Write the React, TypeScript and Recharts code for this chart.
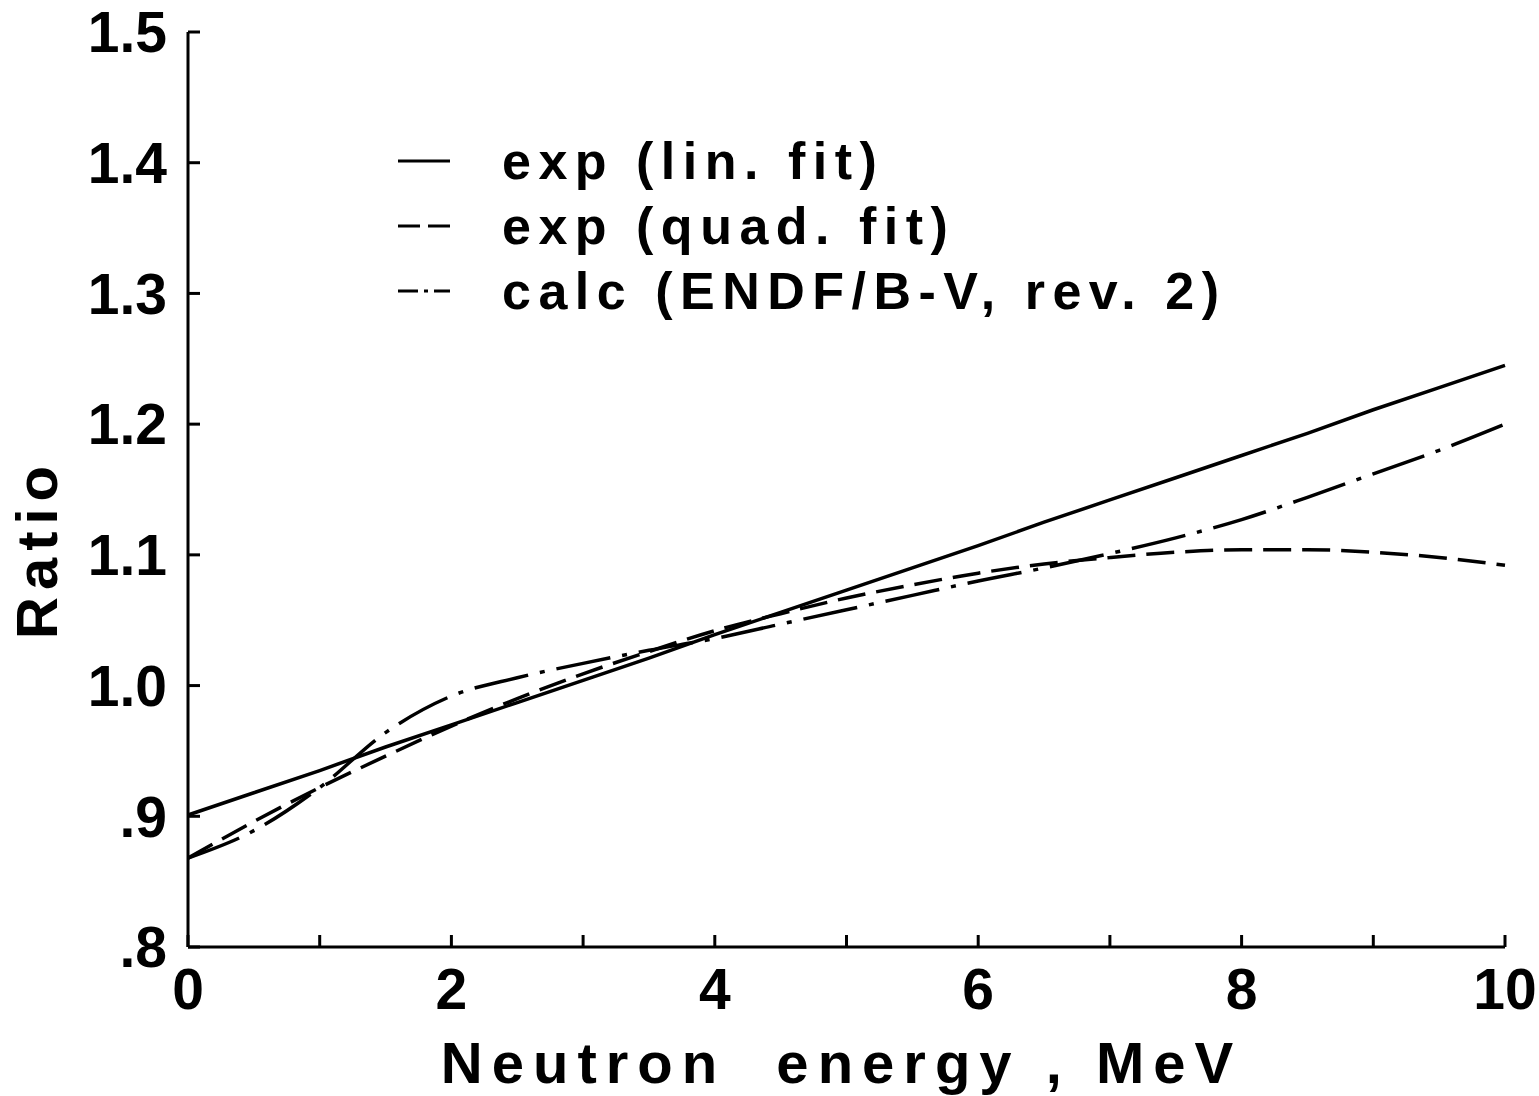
import React from 'react';
import { LineChart, Line, XAxis, YAxis } from 'recharts';

const energy = [0, 0.5, 1, 1.5, 2, 2.5, 3, 3.5, 4, 4.5, 5, 5.5, 6, 6.5, 7, 7.5, 8, 8.5, 9, 9.5, 10];
const linFit = [0.901, 0.918, 0.935, 0.953, 0.970, 0.987, 1.004, 1.021, 1.039, 1.056, 1.073, 1.090, 1.107, 1.125, 1.142, 1.159, 1.176, 1.193, 1.211, 1.228, 1.245];
const quadFit = [0.868, 0.896, 0.922, 0.946, 0.969, 0.990, 1.009, 1.026, 1.042, 1.055, 1.067, 1.077, 1.086, 1.093, 1.098, 1.102, 1.104, 1.104, 1.102, 1.098, 1.092];
const calc = [0.868, 0.889, 0.922, 0.964, 0.992, 1.006, 1.017, 1.027, 1.036, 1.047, 1.058, 1.069, 1.080, 1.090, 1.101, 1.113, 1.127, 1.144, 1.162, 1.180, 1.200];

const xTicks = [0, 1, 2, 3, 4, 5, 6, 7, 8, 9, 10];
const yTicks = [0.8, 0.9, 1.0, 1.1, 1.2, 1.3, 1.4, 1.5];
const yTickLabels = ['.8', '.9', '1.0', '1.1', '1.2', '1.3', '1.4', '1.5'];

const seriesNames = ['exp (lin. fit)', 'exp (quad. fit)', 'calc (ENDF/B-V, rev. 2)'];
const xLabel = 'Neutron  energy , MeV';
const yLabel = 'Ratio';

const data = energy.map((e, i) => ({ e, lin: linFit[i], quad: quadFit[i], calc: calc[i] }));

const FONT = '"Liberation Sans", Arial, Helvetica, sans-serif';
const DASH = '28 11';
const DASHDOT = '55 12 5 12';

const legendDash = ['', '22 8', '20 6 4 6'];

const LegendBox = () => (
  <div
    style={{
      position: 'absolute',
      left: 398,
      top: 128,
      fontFamily: FONT,
      fontWeight: 700,
      fontSize: 52,
      color: '#000',
      lineHeight: 1,
    }}
  >
    {seriesNames.map((n, i) => (
      <div key={n} style={{ display: 'flex', alignItems: 'center', height: 65, whiteSpace: 'pre' }}>
        <svg width={104} height={20} style={{ display: 'block' }}>
          <line x1={0} y1={10} x2={52} y2={10} stroke="#000" strokeWidth={3} strokeDasharray={legendDash[i] || undefined} />
        </svg>
        <span style={{ letterSpacing: 7.5 }}>{n}</span>
      </div>
    ))}
  </div>
);

export default function App() {
  return (
    <div style={{ position: 'absolute', left: 0, top: 0, width: 1539, height: 1096, background: '#fff' }}>
      <LineChart width={1539} height={1096} data={data} margin={{ top: 32, right: 34, bottom: 0, left: 0 }}>
        <XAxis
          dataKey="e"
          type="number"
          domain={[0, 10]}
          ticks={xTicks}
          interval={0}
          height={149}
          stroke="#000"
          strokeWidth={3}
          tickSize={-12}
          tickMargin={34}
          tickLine={{ stroke: '#000', strokeWidth: 3 }}
          tickFormatter={(v: number) => (v % 2 === 0 ? String(v) : '')}
          tick={{ fill: '#000', fontSize: 57, fontWeight: 700, fontFamily: FONT }}
          label={({ viewBox }: any) => (
            <text
              x={viewBox.x + viewBox.width / 2 - 5}
              y={viewBox.y + 136}
              textAnchor="middle"
              fill="#000"
              style={{ fontFamily: FONT, fontWeight: 700, fontSize: 58, letterSpacing: 9, whiteSpace: 'pre' }}
            >
              {xLabel}
            </text>
          )}
        />
        <YAxis
          type="number"
          domain={[0.8, 1.5]}
          ticks={yTicks}
          interval={0}
          width={188}
          stroke="#000"
          strokeWidth={3}
          tickSize={-12}
          tickMargin={33}
          tickLine={{ stroke: '#000', strokeWidth: 3 }}
          tickFormatter={(v: number) => yTickLabels[yTicks.findIndex((t) => Math.abs(t - v) < 1e-6)] ?? ''}
          tick={{ fill: '#000', fontSize: 57, fontWeight: 700, fontFamily: FONT }}
          label={() => (
            <text
              x={57}
              y={549}
              transform="rotate(-90 57 549)"
              textAnchor="middle"
              fill="#000"
              style={{ fontFamily: FONT, fontWeight: 700, fontSize: 58, letterSpacing: 7 }}
            >
              {yLabel}
            </text>
          )}
        />
        <Line type="linear" dataKey="lin" stroke="#000" strokeWidth={3.5} dot={false} isAnimationActive={false} />
        <Line type="monotone" dataKey="quad" stroke="#000" strokeWidth={3.5} strokeDasharray={DASH} dot={false} isAnimationActive={false} />
        <Line type="monotone" dataKey="calc" stroke="#000" strokeWidth={3.5} strokeDasharray={DASHDOT} dot={false} isAnimationActive={false} />
      </LineChart>
      <LegendBox />
    </div>
  );
}
